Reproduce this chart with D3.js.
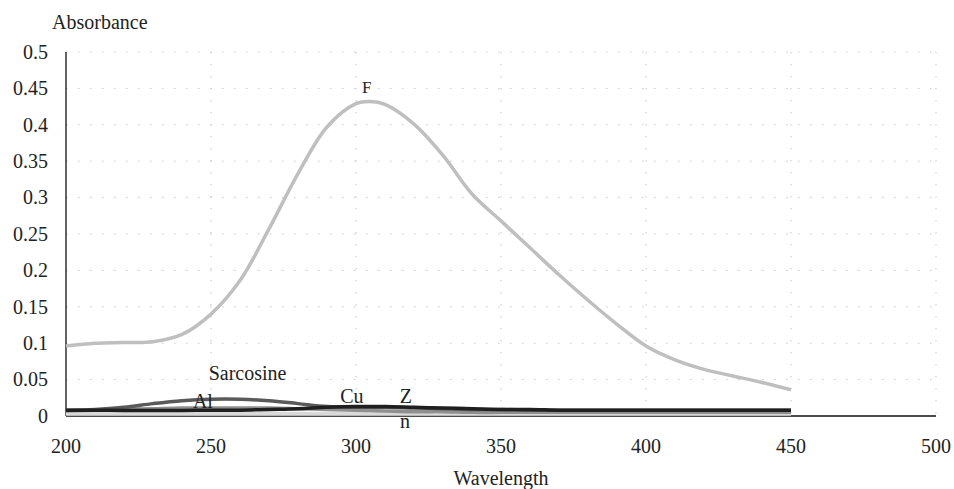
<!DOCTYPE html>
<html><head><meta charset="utf-8">
<script src="https://cdn.jsdelivr.net/npm/d3@7"></script>
<style>
body{margin:0;background:#fff;}
svg text{font-family:"Liberation Serif","DejaVu Serif",serif;fill:#222;}
</style></head>
<body><svg id="chart" width="954" height="489" font-family="Liberation Serif, serif"></svg>
<script>
// Data
const wavelengths = [200,210,220,230,240,250,260,270,280,290,300,305,310,320,330,340,350,360,370,380,390,400,410,420,430,440,450];
const seriesF   = [0.096,0.100,0.101,0.102,0.112,0.140,0.186,0.257,0.333,0.397,0.429,0.432,0.428,0.401,0.358,0.305,0.268,0.231,0.194,0.159,0.126,0.096,0.077,0.064,0.055,0.046,0.036];
const seriesAl  = [0.008,0.009,0.012,0.017,0.021,0.023,0.023,0.021,0.017,0.013,0.012,0.012,0.012,0.011,0.010,0.009,0.009,0.008,0.008,0.008,0.008,0.008,0.008,0.008,0.008,0.008,0.008];
const seriesZn  = [0.007,0.008,0.009,0.010,0.011,0.011,0.011,0.011,0.010,0.009,0.008,0.0075,0.007,0.006,0.006,0.005,0.005,0.005,0.005,0.005,0.005,0.005,0.005,0.005,0.005,0.005,0.005];
const seriesCu  = [0.008,0.008,0.0075,0.0075,0.0075,0.008,0.008,0.009,0.010,0.012,0.013,0.013,0.013,0.012,0.011,0.010,0.009,0.009,0.008,0.008,0.008,0.008,0.008,0.008,0.008,0.008,0.008];
const seriesSar = [0.003,0.003,0.003,0.003,0.003,0.003,0.003,0.003,0.003,0.003,0.003,0.003,0.003,0.003,0.003,0.003,0.003,0.003,0.003,0.003,0.003,0.003,0.003,0.003,0.003,0.003,0.003];
const xTicks = [200,250,300,350,400,450,500];
const yTicks = [0,0.05,0.1,0.15,0.2,0.25,0.3,0.35,0.4,0.45,0.5];
const yTickLabels = ["0","0.05","0.1","0.15","0.2","0.25","0.3","0.35","0.4","0.45","0.5"];
const labelTexts = ["F","Sarcosine","Al","Cu","Z","n"];
const labelX = [303.7,262.6,247.2,298.6,317.2,316.9];
const labelY = [0.4437,0.0495,0.011,0.0179,0.0179,-0.0165];

const FONT = "Liberation Serif, DejaVu Serif, serif";
const svg = d3.select("#chart");
const m = {l:66, r:18, t:52, b:73};
const W = 954, H = 489;
const x = d3.scaleLinear().domain([200,500]).range([m.l, W-m.r]);
const y = d3.scaleLinear().domain([0,0.5]).range([H-m.b, m.t]);

// grid
const g = svg.append("g");
g.selectAll(".hg").data(yTicks.slice(1)).join("line")
 .attr("x1",x(200)).attr("x2",x(500)).attr("y1",d=>y(d)).attr("y2",d=>y(d))
 .attr("stroke","#c8c8c8").attr("stroke-width",1).attr("stroke-dasharray","1.5 10.5");
g.selectAll(".vg").data(xTicks.slice(1)).join("line")
 .attr("x1",d=>x(d)).attr("x2",d=>x(d)).attr("y1",y(0.5)).attr("y2",y(0))
 .attr("stroke","#c8c8c8").attr("stroke-width",1).attr("stroke-dasharray","1.5 10.5");

// axes
svg.append("line").attr("x1",x(200)).attr("x2",x(500)).attr("y1",y(0)).attr("y2",y(0)).attr("stroke","#111").attr("stroke-width",1.3);
svg.append("line").attr("x1",x(200)).attr("x2",x(200)).attr("y1",y(0.5)).attr("y2",y(0)).attr("stroke","#111").attr("stroke-width",1.3);

svg.selectAll(".yl").data(yTicks).join("text")
 .attr("font-family",FONT)
 .attr("x",x(200)-18).attr("y",d=>y(d)).attr("dy","0.34em").attr("text-anchor","end")
 .attr("font-size",20).text((d,i)=>yTickLabels[i]);
svg.selectAll(".xl").data(xTicks).join("text")
 .attr("font-family",FONT)
 .attr("x",d=>x(d)).attr("y",y(0)+37).attr("text-anchor","middle")
 .attr("font-size",20).text(d=>d);

svg.append("text").attr("font-family",FONT).attr("x",52).attr("y",29).attr("font-size",20).text("Absorbance");
svg.append("text").attr("font-family",FONT).attr("x",(x(200)+x(500))/2).attr("y",485).attr("text-anchor","middle").attr("font-size",20).text("Wavelength");

// lines
const line = d3.line().x((d,i)=>x(wavelengths[i])).y(d=>y(d)).curve(d3.curveCatmullRom.alpha(0.5));
const series = [
  {v:seriesSar, c:"#d9d9d9", w:4},
  {v:seriesZn, c:"#8f8f8f", w:3.5},
  {v:seriesAl, c:"#5a5a5a", w:3.5},
  {v:seriesCu, c:"#1f1f1f", w:3.5},
  {v:seriesF, c:"#bfbfbf", w:3.5}
];
svg.selectAll(".ser").data(series).join("path")
 .attr("d",d=>line(d.v)).attr("fill","none").attr("stroke",d=>d.c).attr("stroke-width",d=>d.w);

svg.selectAll(".lab").data(labelTexts).join("text")
 .attr("font-family",FONT)
 .attr("x",(d,i)=>x(labelX[i])).attr("y",(d,i)=>y(labelY[i])).attr("text-anchor","middle")
 .attr("font-size",(d,i)=> i===0 ? 17 : 20).text(d=>d);
</script></body></html>
